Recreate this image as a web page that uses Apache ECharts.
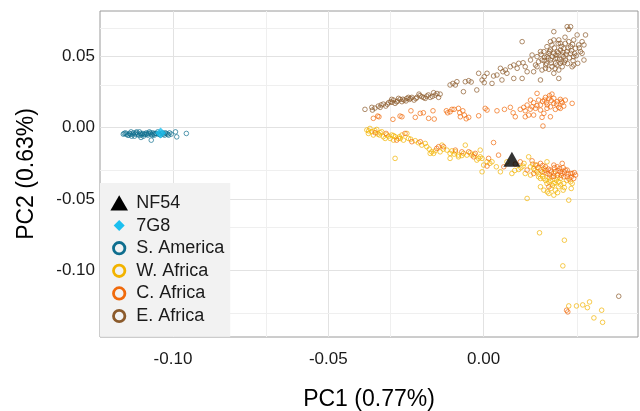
<!DOCTYPE html>
<html>
<head>
<meta charset="utf-8">
<script src="https://cdn.jsdelivr.net/npm/echarts@6/dist/echarts.min.js"></script>
<style>html,body{margin:0;padding:0;background:#fff}#c{width:640px;height:411px}</style>
</head>
<body>
<div id="c"></div>
<script>
var xTicks = [-0.10, -0.05, 0.00];
var yTicks = [-0.10, -0.05, 0.00, 0.05];
var xGrid = [-0.10, -0.075, -0.05, -0.025, 0.00, 0.025];
var yGrid = [0.075, 0.05, 0.025, 0.00, -0.025, -0.05, -0.075, -0.10, -0.125];
var xMajor = [-0.10, -0.05, 0.00];
var yMajor = [0.05, 0.00, -0.05, -0.10];

var nf54 = [[0.0091, -0.0221]];
var g7g8 = [[-0.1040, -0.0037]];

var sAmerica = [
[-0.1160,-0.0045],[-0.1153,-0.0036],[-0.1146,-0.0052],[-0.1140,-0.0040],[-0.1135,-0.0029],[-0.1130,-0.0045],
[-0.1124,-0.0059],[-0.1119,-0.0036],[-0.1114,-0.0045],[-0.1108,-0.0029],[-0.1103,-0.0052],[-0.1103,-0.0068],
[-0.1097,-0.0040],[-0.1092,-0.0045],[-0.1086,-0.0036],[-0.1081,-0.0052],[-0.1076,-0.0029],[-0.1070,-0.0045],
[-0.1070,-0.0087],[-0.1065,-0.0036],[-0.1060,-0.0052],[-0.1054,-0.0040],[-0.1049,-0.0029],[-0.1044,-0.0045],
[-0.1033,-0.0036],[-0.1027,-0.0052],[-0.1022,-0.0040],[-0.1017,-0.0045],[-0.1011,-0.0036],[-0.1006,-0.0045],
[-0.0992,-0.0029],[-0.0988,-0.0064],[-0.0957,-0.0040],[-0.1150,-0.0045],[-0.1127,-0.0036],[-0.1110,-0.0052],
[-0.1095,-0.0059],[-0.1079,-0.0040],[-0.1062,-0.0045],[-0.1040,-0.0052],[-0.1142,-0.0052],[-0.1088,-0.0045],
[-0.1157,-0.0040],[-0.1137,-0.0045],[-0.1121,-0.0045],[-0.1105,-0.0040],[-0.1084,-0.0045],[-0.1073,-0.0036],
[-0.1058,-0.0040],[-0.1047,-0.0045],[-0.1036,-0.0040],[-0.1030,-0.0045],[-0.1025,-0.0036],[-0.1014,-0.0052],
[-0.1133,-0.0059],[-0.1117,-0.0029],[-0.1100,-0.0045],[-0.1067,-0.0052]
];

var wAfrica = [
[-0.0376,-0.0016],[-0.0366,-0.0005],[-0.0360,-0.0028],[-0.0344,-0.0012],[-0.0335,-0.0051],[-0.0328,-0.0028],
[-0.0323,-0.0063],[-0.0306,-0.0059],[-0.0301,-0.0075],[-0.0296,-0.0051],[-0.0290,-0.0087],[-0.0285,-0.0063],
[-0.0271,-0.0063],[-0.0263,-0.0051],[-0.0247,-0.0040],[-0.0242,-0.0075],[-0.0199,-0.0122],[-0.0183,-0.0133],
[-0.0172,-0.0180],[-0.0161,-0.0180],[-0.0140,-0.0169],[-0.0118,-0.0157],[-0.0108,-0.0180],[-0.0091,-0.0169],
[-0.0081,-0.0204],[-0.0054,-0.0192],[-0.0022,-0.0227],[-0.0011,-0.0204],[0.0011,-0.0239],[-0.0285,-0.0215],
[-0.0371,-0.0040],[-0.0355,-0.0051],[-0.0333,-0.0035],[-0.0317,-0.0075],[-0.0274,-0.0075],[-0.0258,-0.0087],
[-0.0220,-0.0091],[-0.0188,-0.0110],[-0.0156,-0.0162],[-0.0102,-0.0162],[-0.0065,-0.0180],[-0.0043,-0.0176],
[-0.0005,-0.0215],[-0.0167,-0.0169],[-0.0134,-0.0122],[-0.0108,-0.0215],[-0.0081,-0.0192],[-0.0059,-0.0122],
[-0.0038,-0.0192],[-0.0016,-0.0215],[-0.0011,-0.0157],[-0.0005,-0.0309],[0.0000,-0.0262],[0.0027,-0.0239],
[0.0041,-0.0274],[0.0054,-0.0309],[0.0075,-0.0239],[0.0091,-0.0321],[0.0113,-0.0293],[0.0127,-0.0269],
[0.0134,-0.0321],[0.0145,-0.0204],[0.0151,-0.0332],[0.0161,-0.0286],[0.0172,-0.0309],[0.0177,-0.0344],
[0.0183,-0.0414],[0.0194,-0.0356],[0.0210,-0.0379],[0.0210,-0.0461],[0.0217,-0.0426],[0.0226,-0.0391],
[0.0234,-0.0368],[0.0242,-0.0414],[0.0247,-0.0356],[0.0256,-0.0438],[0.0258,-0.0391],[0.0274,-0.0508],
[0.0280,-0.0379],[0.0282,-0.0426],[0.0140,-0.0496],[0.0172,-0.0262],[0.0194,-0.0286],[0.0204,-0.0391],
[0.0215,-0.0368],[0.0231,-0.0438],[0.0194,-0.0438],[0.0226,-0.0473],[0.0242,-0.0379],[0.0204,-0.0239],
[0.0151,-0.0274],[0.0183,-0.0356],[0.0285,-0.0391],[0.0226,-0.0321],[0.0183,-0.0297],
[0.0165,-0.0300],[0.0178,-0.0325],[0.0190,-0.0340],[0.0200,-0.0370],[0.0212,-0.0352],[0.0222,-0.0405],
[0.0230,-0.0385],[0.0238,-0.0350],[0.0248,-0.0400],[0.0260,-0.0420],[0.0268,-0.0370],[0.0205,-0.0450],
[0.0238,-0.0455],[0.0196,-0.0315],[0.0158,-0.0255],[0.0120,-0.0280],[0.0100,-0.0300],[0.0130,-0.0250],
[-0.0370,-0.0022],[-0.0350,-0.0020],[-0.0340,-0.0045],[-0.0312,-0.0050],[-0.0290,-0.0055],[-0.0268,-0.0075],
[-0.0235,-0.0080],[-0.0210,-0.0105],[-0.0175,-0.0150],[-0.0130,-0.0150],[-0.0095,-0.0185],[-0.0070,-0.0195],
[-0.0030,-0.0190],[0.0020,-0.0250],
[0.0180,-0.0737],[0.0260,-0.0789],[0.0255,-0.0969],
[0.0274,-0.1250],[0.0299,-0.1250],[0.0319,-0.1243],[0.0341,-0.1222],[0.0334,-0.1262],[0.0355,-0.1334],
[0.0380,-0.1280],[0.0383,-0.1365]
];

var cAfrica = [
[-0.0355,0.0066],[-0.0341,0.0082],[-0.0337,0.0077],[-0.0292,0.0059],[-0.0269,0.0082],[-0.0263,0.0077],
[-0.0234,0.0119],[-0.0220,0.0073],[-0.0194,0.0105],[-0.0177,0.0066],[-0.0163,0.0119],[-0.0159,0.0061],
[-0.0120,0.0119],[-0.0116,0.0105],[-0.0102,0.0129],[-0.0095,0.0129],[-0.0077,0.0105],[-0.0075,0.0077],
[-0.0067,0.0119],[-0.0062,0.0089],[-0.0056,0.0063],[-0.0048,0.0073],[-0.0016,0.0084],[0.0005,0.0136],
[0.0011,0.0124],[0.0043,0.0119],[0.0067,0.0129],[0.0086,0.0143],[0.0095,0.0105],[0.0102,0.0077],
[0.0118,0.0129],[0.0129,0.0143],[0.0134,0.0119],[0.0140,0.0159],[0.0145,0.0089],[0.0151,0.0194],
[0.0156,0.0147],[0.0161,0.0176],[0.0167,0.0136],[0.0172,0.0241],[0.0177,0.0194],[0.0183,0.0159],
[0.0188,0.0073],[0.0191,0.0012],[0.0196,0.0194],[0.0202,0.0176],[0.0204,0.0136],[0.0210,0.0206],
[0.0215,0.0147],[0.0220,0.0236],[0.0226,0.0171],[0.0231,0.0129],[0.0237,0.0183],[0.0242,0.0143],
[0.0247,0.0199],[0.0253,0.0176],[0.0258,0.0152],[0.0263,0.0194],[0.0285,0.0171],[0.0183,0.0124],
[0.0194,0.0101],[0.0215,0.0077],[0.0161,0.0089],[0.0134,0.0077],[-0.0108,0.0112],[-0.0081,0.0136],
[-0.0204,0.0101],[0.0199,0.0213],[0.0226,0.0206],[0.0247,0.0136],
[0.0190,0.0185],[0.0205,0.0160],[0.0218,0.0190],[0.0235,0.0165],[0.0250,0.0185],[0.0212,0.0225],
[0.0172,0.0155],[0.0150,0.0130],
[-0.0349,-0.0035],[-0.0314,-0.0040],[-0.0280,-0.0087],[-0.0253,-0.0040],[-0.0231,-0.0098],[-0.0204,-0.0098],
[-0.0151,-0.0145],[-0.0129,-0.0133],[-0.0070,-0.0169],[-0.0032,-0.0204],[0.0032,-0.0104],
[-0.0145,-0.0133],[-0.0091,-0.0157],[-0.0048,-0.0169],[-0.0027,-0.0180],[0.0011,-0.0269],[0.0016,-0.0215],
[0.0048,-0.0192],[0.0065,-0.0274],[0.0102,-0.0255],[0.0118,-0.0239],[0.0140,-0.0297],[0.0156,-0.0232],
[0.0167,-0.0262],[0.0183,-0.0250],[0.0188,-0.0309],[0.0199,-0.0274],[0.0204,-0.0321],[0.0215,-0.0297],
[0.0220,-0.0344],[0.0226,-0.0262],[0.0231,-0.0309],[0.0237,-0.0332],[0.0245,-0.0286],[0.0253,-0.0321],
[0.0263,-0.0297],[0.0269,-0.0344],[0.0285,-0.0321],[0.0290,-0.0356],[0.0296,-0.0332],[0.0237,-0.0274],
[0.0247,-0.0309],[0.0258,-0.0344],[0.0269,-0.0297],[0.0280,-0.0321],[0.0161,-0.0321],[0.0210,-0.0414],
[0.0253,-0.0250],
[0.0175,-0.0280],[0.0190,-0.0265],[0.0208,-0.0290],[0.0218,-0.0310],[0.0228,-0.0280],[0.0240,-0.0300],
[0.0250,-0.0335],[0.0260,-0.0310],[0.0272,-0.0325],[0.0282,-0.0345],[0.0292,-0.0315],[0.0226,-0.0340],
[0.0212,-0.0330],[0.0256,-0.0280],[0.0200,-0.0300],[0.0275,-0.0360],
[0.0267,-0.1280],[0.0271,-0.1292]
];

var eAfrica = [
[-0.0382,0.0129],[-0.0360,0.0143],[-0.0358,0.0124],[-0.0339,0.0152],[-0.0323,0.0166],[-0.0315,0.0152],
[-0.0306,0.0176],[-0.0299,0.0183],[-0.0290,0.0194],[-0.0285,0.0171],[-0.0277,0.0187],[-0.0269,0.0199],
[-0.0263,0.0183],[-0.0256,0.0194],[-0.0247,0.0206],[-0.0239,0.0199],[-0.0231,0.0213],[-0.0224,0.0194],
[-0.0215,0.0213],[-0.0208,0.0236],[-0.0199,0.0218],[-0.0188,0.0206],[-0.0183,0.0222],[-0.0172,0.0213],
[-0.0161,0.0246],[-0.0156,0.0229],[-0.0145,0.0213],[-0.0296,0.0199],[-0.0274,0.0206],[-0.0242,0.0213],
[-0.0333,0.0143],[-0.0140,0.0236],
[-0.0350,0.0138],[-0.0330,0.0160],[-0.0310,0.0165],[-0.0295,0.0178],[-0.0280,0.0182],[-0.0260,0.0200],
[-0.0250,0.0188],[-0.0235,0.0205],[-0.0218,0.0205],[-0.0205,0.0225],[-0.0193,0.0212],[-0.0178,0.0230],
[-0.0165,0.0220],[-0.0150,0.0240],
[-0.0108,0.0300],[-0.0099,0.0311],[-0.0091,0.0300],[-0.0086,0.0323],[-0.0065,0.0253],[-0.0059,0.0323],
[-0.0048,0.0330],[-0.0040,0.0321],[-0.0022,0.0265],[-0.0016,0.0382],[-0.0005,0.0335],[0.0002,0.0358],
[0.0011,0.0382],[0.0002,0.0316],[0.0032,0.0363],[0.0043,0.0370],[0.0054,0.0417],[0.0062,0.0393],
[0.0059,0.0335],[0.0070,0.0405],[0.0086,0.0428],[0.0097,0.0440],[0.0108,0.0417],[0.0127,0.0456],
[0.0124,0.0604],[0.0124,0.0346],[0.0140,0.0393],[0.0075,0.0382],[0.0027,0.0311],[0.0097,0.0346],
[0.0113,0.0452],[0.0134,0.0428],
[0.0151,0.0475],[0.0156,0.0510],[0.0167,0.0440],[0.0172,0.0499],[0.0183,0.0534],[0.0188,0.0475],
[0.0183,0.0335],[0.0196,0.0494],[0.0202,0.0452],[0.0210,0.0522],[0.0215,0.0545],[0.0220,0.0581],
[0.0226,0.0616],[0.0231,0.0487],[0.0237,0.0534],[0.0242,0.0405],[0.0247,0.0592],[0.0247,0.0452],
[0.0253,0.0510],[0.0258,0.0557],[0.0263,0.0475],[0.0269,0.0709],[0.0274,0.0604],[0.0280,0.0522],
[0.0285,0.0428],[0.0290,0.0499],[0.0296,0.0557],[0.0301,0.0651],[0.0303,0.0452],[0.0312,0.0534],
[0.0317,0.0522],[0.0323,0.0581],[0.0328,0.0651],[0.0226,0.0674],[0.0242,0.0346],[0.0226,0.0382],
[0.0290,0.0440],[0.0204,0.0499],[0.0215,0.0475],[0.0226,0.0522],[0.0237,0.0487],[0.0247,0.0545],
[0.0258,0.0499],[0.0269,0.0534],[0.0280,0.0569],[0.0220,0.0428],[0.0231,0.0452],[0.0253,0.0428],
[0.0263,0.0592],[0.0280,0.0709],[0.0274,0.0690],[0.0188,0.0405],[0.0199,0.0417],[0.0194,0.0534],
[0.0204,0.0569],[0.0215,0.0604],[0.0242,0.0616],[0.0290,0.0616],[0.0306,0.0581],[0.0317,0.0604],
[0.0323,0.0475],[0.0161,0.0393],[0.0172,0.0428],[0.0177,0.0463],
[0.0185,0.0515],[0.0195,0.0470],[0.0208,0.0488],[0.0212,0.0535],[0.0222,0.0500],[0.0228,0.0560],
[0.0233,0.0510],[0.0240,0.0525],[0.0245,0.0480],[0.0250,0.0570],[0.0255,0.0530],[0.0260,0.0460],
[0.0265,0.0515],[0.0272,0.0560],[0.0276,0.0490],[0.0283,0.0540],[0.0288,0.0470],[0.0293,0.0520],
[0.0200,0.0440],[0.0218,0.0455],[0.0236,0.0440],[0.0252,0.0465],[0.0270,0.0450],[0.0286,0.0585],
[0.0298,0.0505],[0.0308,0.0560],[0.0240,0.0590],[0.0262,0.0635],[0.0230,0.0415],[0.0210,0.0410],
[0.0435,-0.1182]
];

var colS = '#0E6E8E', colW = '#F2B300', colC = '#F06A0C', colE = '#8B5A2B', col7 = '#1BBFEF';
var FONT = '"Liberation Sans", Arial, sans-serif';

var circPath = 'path://M0,0M24,13M17.7,6.5A5.7,5.7,0,1,1,6.3,6.5A5.7,5.7,0,1,1,17.7,6.5Z';
var triPath = 'path://M0,0M24,18M12,1.2L20.8,16.4L3.2,16.4Z';
var diaPath = 'path://M0,0M24,18M12,3.5L17.5,9L12,14.5L6.5,9Z';

function pts(name, data, color) {
  return {
    name: name, type: 'scatter', data: data, z: 3,
    symbol: 'circle', symbolSize: 4.6,
    itemStyle: { color: 'rgba(255,255,255,0)', borderColor: color, borderWidth: 1, opacity: 0.7 },
    emphasis: { disabled: true }, silent: true
  };
}

var gridMarks = [];
xGrid.forEach(function (v) {
  gridMarks.push({ xAxis: v, lineStyle: { color: xMajor.indexOf(v) >= 0 ? '#e2e2e2' : '#efefef', width: 1, type: 'solid' } });
});
yGrid.forEach(function (v) {
  gridMarks.push({ yAxis: v, lineStyle: { color: yMajor.indexOf(v) >= 0 ? '#e2e2e2' : '#efefef', width: 1, type: 'solid' } });
});

var chart = echarts.init(document.getElementById('c'), null, { renderer: 'canvas' });
chart.setOption({
  animation: false,
  backgroundColor: '#ffffff',
  textStyle: { fontFamily: FONT },
  grid: { left: 100, top: 11, right: 2, bottom: 74, show: true, borderColor: '#9a9a9a', borderWidth: 1, backgroundColor: '#fff', containLabel: false, outerBoundsMode: 'none' },
  xAxis: {
    type: 'value', min: -0.1235, max: 0.0497,
    axisLine: { show: false },
    axisTick: { show: true, length: 4, lineStyle: { color: '#8a8a8a' }, customValues: xTicks },
    axisLabel: { customValues: xTicks, formatter: function (v) { return v.toFixed(2); }, fontSize: 17, color: '#1a1a1a', margin: 14, fontFamily: FONT },
    splitLine: { show: false },
    name: 'PC1 (0.77%)', nameLocation: 'middle', nameGap: 51,
    nameTextStyle: { fontSize: 23, color: '#000', fontFamily: FONT }
  },
  yAxis: {
    type: 'value', min: -0.1468, max: 0.0819,
    axisLine: { show: false },
    axisTick: { show: true, length: 4, lineStyle: { color: '#8a8a8a' }, customValues: yTicks },
    axisLabel: { customValues: yTicks, formatter: function (v) { return v.toFixed(2); }, fontSize: 17, color: '#1a1a1a', margin: 5, fontFamily: FONT },
    splitLine: { show: false },
    name: 'PC2 (0.63%)', nameLocation: 'middle', nameGap: 62,
    nameTextStyle: { fontSize: 23, color: '#000', fontFamily: FONT }
  },
  legend: {
    orient: 'vertical', left: 100, top: 183, z: 20,
    padding: [11, 6, 11.7, 4.7],
    backgroundColor: '#f2f2f2',
    itemWidth: 24, itemHeight: 18, itemGap: 4.6,
    textStyle: { fontSize: 18, lineHeight: 18, color: '#1a1a1a', fontFamily: FONT },
    selectedMode: false,
    data: [
      { name: 'NF54', icon: triPath, itemStyle: { color: '#000', borderWidth: 0, opacity: 1 } },
      { name: '7G8', icon: diaPath, itemStyle: { color: col7, borderWidth: 0, opacity: 1 } },
      { name: 'S. America', icon: circPath, itemStyle: { color: 'none', borderColor: colS, borderWidth: 2.8, opacity: 1 } },
      { name: 'W. Africa', icon: circPath, itemStyle: { color: 'none', borderColor: colW, borderWidth: 2.8, opacity: 1 } },
      { name: 'C. Africa', icon: circPath, itemStyle: { color: 'none', borderColor: colC, borderWidth: 2.8, opacity: 1 } },
      { name: 'E. Africa', icon: circPath, itemStyle: { color: 'none', borderColor: colE, borderWidth: 2.8, opacity: 1 } }
    ]
  },
  series: [
    { name: 'grid', type: 'scatter', data: [], z: 1, silent: true,
      markLine: { z: 1, silent: true, symbol: ['none', 'none'], label: { show: false }, animation: false, data: gridMarks } },
    pts('S. America', sAmerica, colS),
    pts('W. Africa', wAfrica, colW),
    pts('C. Africa', cAfrica, colC),
    pts('E. Africa', eAfrica, colE),
    { name: '7G8', type: 'scatter', data: g7g8, z: 4, symbol: 'diamond', symbolSize: [11, 11], itemStyle: { color: col7 }, silent: true },
    { name: 'NF54', type: 'scatter', data: nf54, z: 5, symbol: 'triangle', symbolSize: [17, 15], itemStyle: { color: '#000' }, silent: true }
  ]
});
</script>
</body>
</html>
